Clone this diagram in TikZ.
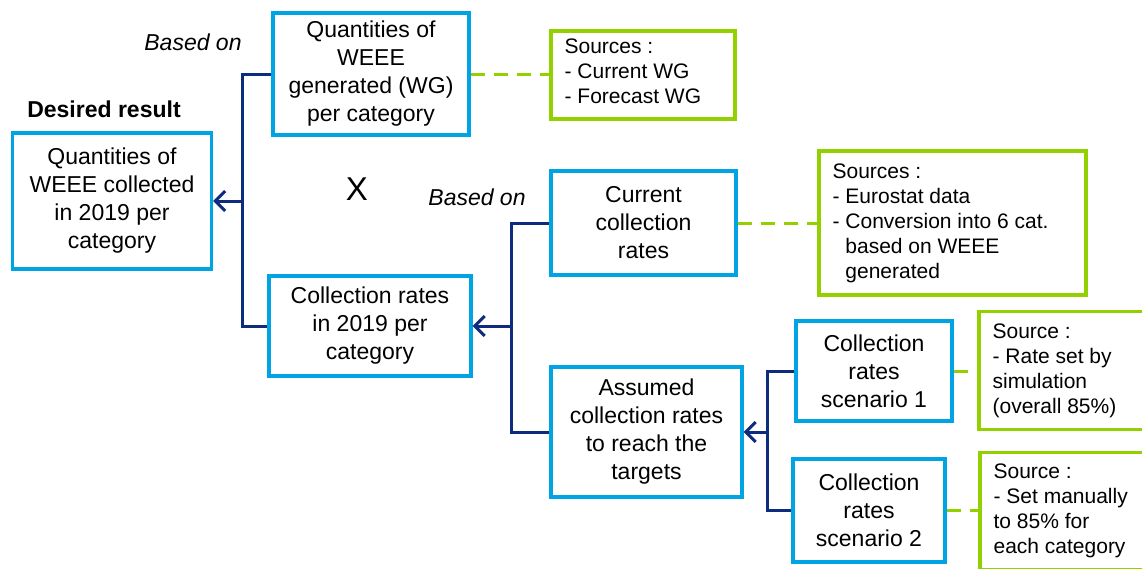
\documentclass[tikz,border=0pt]{standalone}
\usepackage{fontspec}
\setmainfont{Liberation Sans}
\usetikzlibrary{arrows.meta}
\definecolor{boxblue}{RGB}{0,164,228}
\definecolor{srcgreen}{RGB}{146,208,0}
\definecolor{linknavy}{RGB}{14,44,125}

\begin{document}
\begin{tikzpicture}[x=1pt,y=-1pt,
  bluebox/.style={draw=boxblue, line width=3.2pt, inner sep=0pt, align=center,
    font=\fontsize{23}{28}\selectfont},
  srcbox/.style={draw=srcgreen, line width=3.2pt, inner sep=0pt},
  srctext/.style={anchor=west, inner sep=0pt, align=left,
    font=\fontsize{21}{25}\selectfont},
  conn/.style={draw=linknavy, line width=3pt},
  arrowlink/.style={conn, -{Straight Barb[length=10pt,width=20pt,line width=3pt]}},
  srclink/.style={draw=srcgreen, line width=3pt, dash pattern=on 14pt off 9pt},
  note/.style={font=\fontsize{23}{28}\selectfont\itshape}
]
\useasboundingbox (0,0) rectangle (1142,568);
\clip (0,0) rectangle (1142,568);

% main boxes
\node[bluebox, minimum width=199, minimum height=136] (A) at (112,201)
  {Quantities of\\WEEE collected\\in 2019 per\\category};
\node[bluebox, minimum width=196, minimum height=122] (B) at (371,74)
  {Quantities of\\WEEE\\generated (WG)\\per category};
\node[bluebox, minimum width=202, minimum height=100] (C) at (370,326)
  {Collection rates\\in 2019 per\\category};
\node[bluebox, minimum width=185, minimum height=104] (D) at (643.5,223)
  {Current\\collection\\rates};
\node[bluebox, minimum width=191, minimum height=130] (E) at (646.5,432)
  {Assumed\\collection rates\\to reach the\\targets};
\node[bluebox, minimum width=156, minimum height=100] (F) at (874,371)
  {Collection\\rates\\scenario 1};
\node[bluebox, minimum width=152, minimum height=103] (G) at (869,510.5)
  {Collection\\rates\\scenario 2};

% source boxes
\node[srcbox, minimum width=184, minimum height=88] (S1) at (643,75) {};
\node[srctext] (S1t) at ([xshift=15pt,yshift=4pt]S1.west)
  {Sources :\\- Current WG\\- Forecast WG};
\node[srcbox, minimum width=267, minimum height=144] (S2) at (952.5,223) {};
\node[srctext] (S2t) at ([xshift=15pt]S2.west)
  {Sources :\\- Eurostat data\\- Conversion into 6 cat.\\\phantom{- }based on WEEE\\\phantom{- }generated};
\node[srcbox, minimum width=168, minimum height=118] (S3) at (1063,370.5) {};
\node[srctext] (S3t) at ([xshift=15pt]S3.west)
  {Source :\\- Rate set by\\simulation\\(overall 85\%)};
\node[srcbox, minimum width=168, minimum height=117] (S4) at (1064,511) {};
\node[srctext] (S4t) at ([xshift=15pt]S4.west)
  {Source :\\- Set manually\\to 85\% for\\each category};

% labels
\node[note] (based1) at (193,42) {Based on};
\node[note] (based2) at (477,197) {Based on};
\node[font=\fontsize{23}{28}\selectfont\bfseries] (desired) at (104,109) {Desired result};
\node[font=\fontsize{33}{38}\selectfont] (times) at (357,189) {X};

% tree connectors
\coordinate (j1) at (242,201);
\coordinate (j2) at (511,326);
\coordinate (j3) at (767,432);
\draw[conn] (B.west) -| (j1) |- (C.west);
\draw[arrowlink] (j1) -- (j1 -| A.east);
\draw[conn] (D.west) -| (j2) |- (E.west);
\draw[arrowlink] (j2) -- (j2 -| C.east);
\draw[conn] (F.west) -| (j3) |- (G.west);
\draw[arrowlink] (j3) -- (j3 -| E.east);

% links to sources
\draw[srclink] (B.east) -- (B.east -| S1.west);
\draw[srclink] (D.east) -- (D.east -| S2.west);
\draw[srclink] (F.east) -- (F.east -| S3.west);
\draw[srclink] (G.east) -- (G.east -| S4.west);
\end{tikzpicture}
\end{document}
